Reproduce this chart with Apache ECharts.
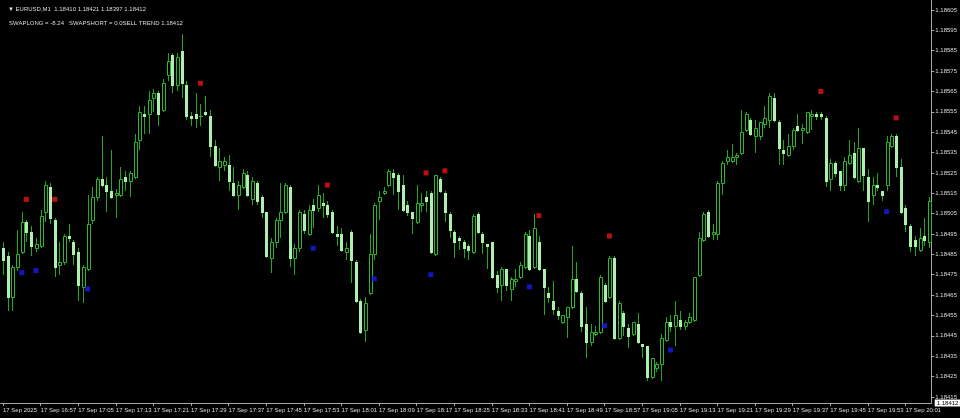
<!DOCTYPE html>
<html><head><meta charset="utf-8">
<style>html,body{margin:0;padding:0;background:#000}#c{width:960px;height:418px}</style>
<script src="https://cdn.jsdelivr.net/npm/echarts@6/dist/echarts.min.js"></script>
</head><body><div id="c"></div><script>
// OHLC of EURUSD M1 bars, 17 Sep 2025 16:49 onward
const opens = [1.18488,1.18484,1.18464,1.18479,1.18486,1.18501,1.18496,1.18488,1.18489,1.18506,
1.18518,1.18502,1.18480,1.18481,1.18494,1.18491,1.18486,1.18469,1.18478,1.18502,
1.18513,1.18522,1.18519,1.18516,1.18514,1.18514,1.18523,1.18521,1.18523,1.18541,
1.18554,1.18554,1.18562,1.18564,1.18556,1.18573,1.18583,1.18568,1.18585,1.18568,
1.18553,1.18554,1.18553,1.18555,1.18553,1.18538,1.18528,1.18529,1.18529,1.18520,
1.18514,1.18518,1.18524,1.18512,1.18520,1.18513,1.18506,1.18483,1.18491,1.18502,
1.18506,1.18518,1.18483,1.18488,1.18505,1.18495,1.18509,1.18508,1.18510,1.18509,
1.18506,1.18495,1.18495,1.18486,1.18496,1.18481,1.18462,1.18448,1.18466,1.18485,
1.18511,1.18515,1.18519,1.18525,1.18524,1.18519,1.18509,1.18506,1.18501,1.18509,
1.18513,1.18515,1.18485,1.18522,1.18515,1.18505,1.18496,1.18493,1.18491,1.18489,
1.18486,1.18505,1.18495,1.18490,1.18491,1.18475,1.18470,1.18478,1.18468,1.18472,
1.18474,1.18479,1.18494,1.18479,1.18491,1.18478,1.18466,1.18462,1.18457,1.18452,
1.18454,1.18459,1.18473,1.18466,1.18451,1.18442,1.18446,1.18447,1.18470,1.18464,
1.18483,1.18444,1.18456,1.18449,1.18446,1.18451,1.18441,1.18440,1.18425,1.18429,
1.18431,1.18443,1.18452,1.18450,1.18453,1.18450,1.18452,1.18453,1.18475,1.18492,
1.18506,1.18495,1.18495,1.18520,1.18531,1.18531,1.18533,1.18535,1.18546,1.18551,
1.18543,1.18543,1.18549,1.18551,1.18562,1.18550,1.18536,1.18534,1.18538,1.18548,
1.18546,1.18545,1.18553,1.18554,1.18554,1.18552,1.18522,1.18530,1.18526,1.18519,
1.18530,1.18535,1.18521,1.18537,1.18523,1.18514,1.18519,1.18516,1.18519,1.18538,
1.18543,1.18528,1.18508,1.18499,1.18492,1.18487,1.18494,1.18491];
const closes = [1.18482,1.18464,1.18479,1.18485,1.18501,1.18496,1.18489,1.18490,1.18504,1.18519,
1.18503,1.18479,1.18481,1.18494,1.18493,1.18485,1.18470,1.18479,1.18500,1.18513,
1.18522,1.18519,1.18516,1.18513,1.18515,1.18522,1.18521,1.18525,1.18540,1.18555,
1.18553,1.18561,1.18564,1.18554,1.18569,1.18580,1.18568,1.18582,1.18569,1.18553,
1.18552,1.18552,1.18553,1.18554,1.18538,1.18529,1.18531,1.18531,1.18521,1.18514,
1.18519,1.18525,1.18514,1.18521,1.18511,1.18506,1.18484,1.18491,1.18502,1.18506,
1.18519,1.18483,1.18488,1.18506,1.18497,1.18507,1.18507,1.18514,1.18509,1.18505,
1.18496,1.18494,1.18487,1.18488,1.18482,1.18462,1.18447,1.18461,1.18485,1.18509,
1.18513,1.18516,1.18526,1.18523,1.18516,1.18507,1.18506,1.18503,1.18510,1.18510,
1.18511,1.18486,1.18524,1.18516,1.18506,1.18497,1.18491,1.18492,1.18488,1.18487,
1.18504,1.18496,1.18491,1.18489,1.18474,1.18469,1.18478,1.18470,1.18473,1.18473,
1.18480,1.18495,1.18478,1.18498,1.18478,1.18469,1.18464,1.18458,1.18455,1.18455,
1.18459,1.18473,1.18467,1.18450,1.18442,1.18447,1.18447,1.18474,1.18462,1.18483,
1.18444,1.18461,1.18450,1.18445,1.18452,1.18442,1.18440,1.18425,1.18434,1.18431,
1.18444,1.18452,1.18450,1.18455,1.18450,1.18452,1.18454,1.18474,1.18493,1.18505,
1.18494,1.18496,1.18520,1.18530,1.18533,1.18533,1.18534,1.18545,1.18554,1.18544,
1.18547,1.18550,1.18552,1.18563,1.18551,1.18537,1.18535,1.18538,1.18546,1.18546,
1.18547,1.18555,1.18554,1.18553,1.18553,1.18521,1.18530,1.18525,1.18519,1.18531,
1.18534,1.18523,1.18537,1.18524,1.18511,1.18519,1.18518,1.18514,1.18540,1.18543,
1.18528,1.18506,1.18500,1.18489,1.18489,1.18493,1.18492,1.18511];
const lows = [1.18475,1.18457,1.18457,1.18477,1.18485,1.18491,1.18484,1.18486,1.18488,1.18501,
1.18500,1.18474,1.18475,1.18480,1.18491,1.18480,1.18462,1.18461,1.18477,1.18500,
1.18511,1.18518,1.18506,1.18512,1.18503,1.18513,1.18516,1.18513,1.18522,1.18536,
1.18544,1.18544,1.18555,1.18548,1.18555,1.18570,1.18564,1.18565,1.18562,1.18551,
1.18548,1.18547,1.18548,1.18553,1.18533,1.18528,1.18521,1.18526,1.18516,1.18513,
1.18507,1.18517,1.18513,1.18509,1.18509,1.18503,1.18483,1.18476,1.18488,1.18493,
1.18505,1.18479,1.18475,1.18486,1.18495,1.18494,1.18498,1.18506,1.18503,1.18503,
1.18495,1.18489,1.18486,1.18482,1.18471,1.18461,1.18446,1.18442,1.18465,1.18482,
1.18502,1.18514,1.18518,1.18514,1.18507,1.18506,1.18504,1.18495,1.18500,1.18506,
1.18506,1.18485,1.18484,1.18515,1.18501,1.18493,1.18483,1.18487,1.18483,1.18482,
1.18485,1.18495,1.18485,1.18478,1.18473,1.18466,1.18462,1.18467,1.18462,1.18469,
1.18473,1.18478,1.18477,1.18478,1.18477,1.18455,1.18461,1.18455,1.18453,1.18451,
1.18444,1.18458,1.18466,1.18447,1.18434,1.18440,1.18445,1.18446,1.18461,1.18463,
1.18443,1.18443,1.18445,1.18439,1.18445,1.18441,1.18434,1.18423,1.18424,1.18427,
1.18423,1.18442,1.18447,1.18440,1.18448,1.18448,1.18451,1.18452,1.18474,1.18491,
1.18493,1.18492,1.18492,1.18514,1.18529,1.18530,1.18529,1.18534,1.18545,1.18543,
1.18535,1.18541,1.18547,1.18547,1.18550,1.18529,1.18529,1.18533,1.18536,1.18545,
1.18539,1.18544,1.18546,1.18551,1.18551,1.18518,1.18516,1.18523,1.18516,1.18516,
1.18529,1.18522,1.18520,1.18516,1.18501,1.18509,1.18516,1.18511,1.18516,1.18537,
1.18523,1.18505,1.18496,1.18486,1.18484,1.18486,1.18489,1.18488];
const highs = [1.18491,1.18486,1.18480,1.18497,1.18506,1.18502,1.18499,1.18493,1.18507,1.18521,
1.18520,1.18503,1.18491,1.18495,1.18500,1.18492,1.18488,1.18480,1.18514,1.18518,
1.18523,1.18543,1.18523,1.18536,1.18517,1.18528,1.18526,1.18526,1.18544,1.18558,
1.18558,1.18565,1.18566,1.18565,1.18571,1.18584,1.18584,1.18584,1.18593,1.18570,
1.18555,1.18564,1.18559,1.18563,1.18556,1.18541,1.18537,1.18533,1.18534,1.18528,
1.18521,1.18527,1.18526,1.18523,1.18521,1.18514,1.18506,1.18493,1.18503,1.18520,
1.18520,1.18519,1.18490,1.18507,1.18507,1.18509,1.18512,1.18519,1.18515,1.18511,
1.18507,1.18499,1.18498,1.18491,1.18497,1.18482,1.18463,1.18464,1.18495,1.18510,
1.18516,1.18518,1.18527,1.18527,1.18525,1.18524,1.18511,1.18506,1.18519,1.18515,
1.18516,1.18516,1.18524,1.18523,1.18516,1.18506,1.18497,1.18494,1.18492,1.18490,
1.18505,1.18506,1.18496,1.18490,1.18491,1.18477,1.18479,1.18478,1.18474,1.18478,
1.18481,1.18496,1.18497,1.18505,1.18494,1.18478,1.18469,1.18472,1.18459,1.18455,
1.18459,1.18489,1.18481,1.18467,1.18459,1.18451,1.18450,1.18475,1.18471,1.18484,
1.18484,1.18462,1.18457,1.18451,1.18452,1.18456,1.18441,1.18440,1.18434,1.18432,
1.18446,1.18454,1.18455,1.18462,1.18457,1.18453,1.18456,1.18474,1.18496,1.18506,
1.18507,1.18500,1.18521,1.18531,1.18536,1.18539,1.18535,1.18556,1.18555,1.18552,
1.18551,1.18550,1.18558,1.18564,1.18564,1.18551,1.18541,1.18544,1.18547,1.18554,
1.18549,1.18555,1.18556,1.18555,1.18555,1.18553,1.18532,1.18531,1.18526,1.18533,
1.18541,1.18540,1.18547,1.18537,1.18527,1.18523,1.18525,1.18516,1.18543,1.18544,
1.18544,1.18532,1.18509,1.18500,1.18494,1.18498,1.18503,1.18513];

const xTickLabels = ['17 Sep 2025','17 Sep 16:57','17 Sep 17:05','17 Sep 17:13','17 Sep 17:21','17 Sep 17:29',
'17 Sep 17:37','17 Sep 17:45','17 Sep 17:53','17 Sep 18:01','17 Sep 18:09','17 Sep 18:17','17 Sep 18:25',
'17 Sep 18:33','17 Sep 18:41','17 Sep 18:49','17 Sep 18:57','17 Sep 19:05','17 Sep 19:13','17 Sep 19:21',
'17 Sep 19:29','17 Sep 19:37','17 Sep 19:45','17 Sep 19:53','17 Sep 20:01'];
const yTicks = [1.18415,1.18425,1.18435,1.18445,1.18455,1.18465,1.18475,1.18485,1.18495,1.18505,
1.18515,1.18525,1.18535,1.18545,1.18555,1.18565,1.18575,1.18585,1.18595,1.18605];

const sellIdx = [5,11,42,69,90,94,114,129,174,190];
const sellVal = [1.18512,1.18512,1.18569,1.18519,1.18525,1.18526,1.18504,1.18494,1.18565,1.18552];
const buyIdx = [4,7,18,66,79,91,112,128,142,188];
const buyVal = [1.18476,1.18477,1.18468,1.18488,1.18473,1.18475,1.18469,1.18450,1.18438,1.18506];

const lastPrice = 1.18412;
const header1 = '\u25BC EURUSD,M1  1.18410 1.18421 1.18397 1.18412';
const header2 = 'SWAPLONG = -8.24   SWAPSHORT = 0.0SELL TREND 1.18412';

// minute categories 16:49 ...
const categories = [];
for (let i = 0; i < opens.length; i++) {
  const m = 16 * 60 + 49 + i;
  categories.push(String(Math.floor(m / 60)).padStart(2, '0') + ':' + String(m % 60).padStart(2, '0'));
}
const candleData = opens.map((o, i) => [i, o, closes[i], lows[i], highs[i]]);

const FONT = 'Liberation Sans';
const TXT = '#dcdcdc';
const AX = '#a8a8a8';
const WICK = '#22a622';
const BULL = '#2cb82c';
const BEAR = '#aeeeae';
const GRID_RIGHT = 26.3;

const chart = echarts.init(document.getElementById('c'), null, {renderer: 'canvas'});
chart.setOption({
  backgroundColor: '#000',
  animation: false,
  title: [
    {text: header1, left: 3, top: 1, textStyle: {color: TXT, fontSize: 6, fontWeight: 'normal', fontFamily: FONT}},
    {text: header2, left: 4, top: 15, textStyle: {color: TXT, fontSize: 6, fontWeight: 'normal', fontFamily: FONT}}
  ],
  grid: {left: -1.4, right: GRID_RIGHT, top: 0, bottom: 15, containLabel: false},
  xAxis: {
    type: 'category', data: categories, boundaryGap: true,
    axisLine: {show: true, lineStyle: {color: AX, width: 1}},
    axisTick: {show: true, interval: 7, alignWithLabel: true, length: 3, lineStyle: {color: AX}},
    axisLabel: {interval: 7, align: 'left', color: TXT, fontSize: 6, fontFamily: FONT, margin: 4,
      formatter: (v, idx) => xTickLabels[Math.round(idx / 8)] || ''},
    splitLine: {show: false}
  },
  yAxis: {
    type: 'value', position: 'right', min: 1.18412, max: 1.186099, scale: true,
    axisLine: {show: true, lineStyle: {color: AX, width: 1}},
    axisTick: {show: true, length: 3, customValues: yTicks, lineStyle: {color: AX}},
    axisLabel: {customValues: yTicks, color: TXT, fontSize: 6, fontFamily: FONT, margin: 4,
      formatter: v => v.toFixed(5)},
    splitLine: {show: false}
  },
  series: [
    {
      type: 'custom', data: candleData, clip: false,
      encode: {x: 0, y: [1, 2, 3, 4]},
      renderItem: function (params, api) {
        const i = api.value(0), o = api.value(1), c = api.value(2), l = api.value(3), h = api.value(4);
        const pO = api.coord([i, o]), pC = api.coord([i, c]), pL = api.coord([i, l]), pH = api.coord([i, h]);
        const x = Math.round(pO[0]);
        const yTop = Math.round(Math.min(pO[1], pC[1])), yBot = Math.round(Math.max(pO[1], pC[1]));
        const yH = Math.round(pH[1]), yL = Math.round(pL[1]);
        const bull = c >= o;
        const ch = [];
        if (yTop > yH) ch.push({type: 'line', shape: {x1: x + 0.5, y1: yH, x2: x + 0.5, y2: yTop}, style: {stroke: WICK, lineWidth: 1}});
        if (yL > yBot) ch.push({type: 'line', shape: {x1: x + 0.5, y1: yBot, x2: x + 0.5, y2: yL}, style: {stroke: WICK, lineWidth: 1}});
        if (bull) {
          if (yBot - yTop < 2) ch.push({type: 'rect', shape: {x: x - 1, y: yTop, width: 4, height: Math.max(1, yBot - yTop + 1)}, style: {fill: BULL}});
          else ch.push({type: 'rect', shape: {x: x - 0.5, y: yTop + 0.5, width: 3, height: yBot - yTop}, style: {fill: '#000', stroke: BULL, lineWidth: 1}});
        } else {
          ch.push({type: 'rect', shape: {x: x - 1, y: yTop, width: 3, height: Math.max(1, yBot - yTop + 1)}, style: {fill: BEAR}});
        }
        return {type: 'group', children: ch};
      }
    },
    {
      type: 'scatter', symbol: 'rect', symbolSize: 5, z: 5,
      itemStyle: {color: '#e81414'},
      data: sellIdx.map((k, j) => [k, sellVal[j]])
    },
    {
      type: 'scatter', symbol: 'rect', symbolSize: 5, z: 5,
      itemStyle: {color: '#1a1aee'},
      data: buyIdx.map((k, j) => [k, buyVal[j]])
    }
  ]
});

// current-price box on the price scale, placed through the axis scale
const yPix = chart.convertToPixel({yAxisIndex: 0}, lastPrice);
chart.setOption({
  graphic: [{
    type: 'text', z: 100, silent: true,
    x: 960 - GRID_RIGHT + 1, y: yPix,
    style: {
      text: lastPrice.toFixed(5), fill: '#000', font: '6px "Liberation Sans"',
      backgroundColor: '#ffffff', padding: [1, 3, 0, 2], verticalAlign: 'middle', align: 'left'
    }
  }]
});
</script></body></html>
